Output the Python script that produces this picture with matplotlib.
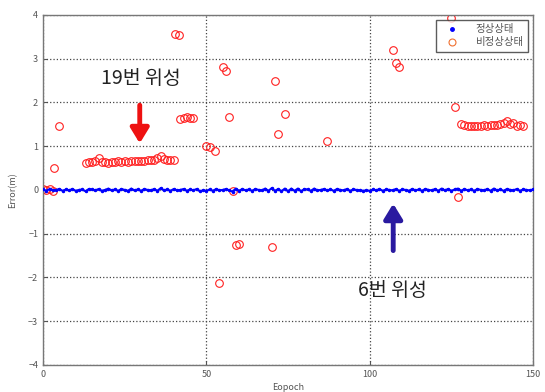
import matplotlib
matplotlib.use("Agg")
import matplotlib.pyplot as plt
from matplotlib.lines import Line2D

plt.rcParams["font.family"] = ["Noto Sans CJK KR", "DejaVu Sans"]

# normal state: epochs 0..150, error close to zero
normal_epoch = list(range(151))
normal_err = [
    0.01, -0.02, 0.02, -0.01, 0.00, 0.02, -0.02, 0.01, -0.01, 0.02,
    -0.02, 0.00, 0.01, -0.03, 0.02, 0.01, -0.01, 0.02, -0.02, 0.00,
    0.03, -0.01, 0.01, -0.02, 0.02, 0.00, -0.02, 0.03, -0.01, 0.01,
    -0.02, 0.02, 0.00, -0.01, 0.02, -0.02, 0.04, -0.01, 0.01, -0.02,
    0.02, -0.01, 0.00, 0.02, -0.02, 0.01, -0.01, 0.02, -0.03, -0.01,
    -0.02, 0.01, -0.02, 0.02, -0.01, 0.00, 0.02, -0.01, -0.04, 0.03,
    -0.02, 0.02, -0.01, 0.01, -0.02, 0.02, 0.00, -0.01, 0.03, -0.02,
    0.04, -0.02, 0.02, -0.03, 0.03, -0.03, 0.03, -0.02, 0.03, -0.03,
    0.02, 0.01, -0.02, 0.03, -0.01, 0.00, 0.02, -0.01, 0.01, -0.02,
    0.02, 0.00, -0.01, 0.02, -0.02, 0.01, 0.00, -0.01, -0.02, -0.01,
    -0.02, 0.01, -0.01, 0.02, -0.02, 0.01, 0.00, -0.01, 0.02, -0.02,
    0.01, 0.00, -0.02, 0.02, -0.01, 0.01, -0.02, 0.02, 0.00, -0.01,
    0.02, -0.02, 0.03, -0.01, 0.02, -0.02, 0.01, 0.03, -0.02, 0.02,
    -0.01, 0.01, -0.02, 0.02, 0.00, -0.01, 0.02, -0.02, 0.03, -0.01,
    0.01, -0.02, 0.02, 0.00, -0.01, 0.02, -0.02, 0.01, 0.00, -0.01,
    0.01,
]

# abnormal state points
abn_epoch = [
    0, 1, 2, 3, 3.5, 5,
    13, 14, 15, 16, 17, 18, 19, 20, 21, 22, 23, 24, 25, 26,
    27, 28, 29, 30, 31, 32, 33, 34, 35, 36, 37, 38, 39, 40,
    40.5, 41.5, 42, 43, 44, 45, 46,
    50, 51, 52.5, 54, 55, 56, 57, 58, 59, 60,
    70, 71, 72, 74, 87,
    107, 108, 109, 125, 126, 127,
    128, 129, 130, 131, 132, 133, 134, 135, 136, 137,
    138, 139, 140, 141, 142, 143, 144, 145, 146, 147,
]
abn_err = [
    0.02, 0.00, 0.01, -0.03, 0.49, 1.45,
    0.62, 0.63, 0.64, 0.66, 0.72, 0.64, 0.63, 0.62, 0.63, 0.64, 0.65, 0.64, 0.65, 0.64,
    0.65, 0.66, 0.65, 0.67, 0.66, 0.68, 0.69, 0.68, 0.72, 0.78, 0.70, 0.69, 0.68, 0.68,
    3.56, 3.54, 1.63, 1.65, 1.66, 1.64, 1.65,
    1.00, 0.99, 0.90, -2.12, 2.80, 2.72, 1.67, -0.02, -1.25, -1.24,
    -1.31, 2.48, 1.28, 1.74, 1.11,
    3.20, 2.90, 2.82, 3.92, 1.90, -0.17,
    1.50, 1.48, 1.46, 1.47, 1.46, 1.47, 1.46, 1.48, 1.47, 1.49,
    1.48, 1.49, 1.50, 1.52, 1.58, 1.50, 1.53, 1.47, 1.48, 1.46,
]

blue = "#0000ff"
red = "#ff2020"

fig = plt.figure(figsize=(5.45, 3.92), dpi=100)
ax = fig.add_axes([0.079, 0.069, 0.899, 0.893])

ax.plot(normal_epoch, normal_err, ".-", color=blue, lw=1.5, ms=3, zorder=3)
ax.plot(abn_epoch, abn_err, "o", mfc="none", mec=red, mew=0.8, ms=5.5, zorder=2)

ax.set_xlim(0, 150)
ax.set_ylim(-4, 4)
ax.set_xticks([0, 50, 100, 150])
ax.set_yticks(range(-4, 5))
ax.tick_params(labelsize=6.5, colors="#555555", length=3, direction="in")
ax.grid(True, linestyle=":", color="#444444", lw=0.9)
for s in ax.spines.values():
    s.set_color("#777777")
    s.set_linewidth(1.0)
ax.set_xlabel("Eopoch", fontsize=6.5, color="#555555", labelpad=3)
ax.set_ylabel("Error(m)", fontsize=6.5, color="#555555", labelpad=8)

handles = [
    Line2D([], [], ls="none", marker=".", color=blue, ms=5),
    Line2D([], [], ls="none", marker="o", mfc="none", mec="#f07030", mew=0.8, ms=5),
]
leg = ax.legend(handles, ["정상상태", "비정상상태"], loc="upper right", fontsize=7.5,
                frameon=True, fancybox=False, edgecolor="#333333", borderpad=0.4,
                handlelength=2.2, handletextpad=1.2, borderaxespad=0.5,
                labelspacing=0.3)
leg.get_frame().set_linewidth(1.0)
for t in leg.get_texts():
    t.set_color("#555555")

ax.text(30, 2.55, "19번 위성", fontsize=14, ha="center", va="center", color="#222222")
ax.annotate("", xy=(29.6, 1.0), xytext=(29.6, 2.0),
            arrowprops=dict(arrowstyle="-|>,head_width=0.55,head_length=0.9",
                            color="#ee1111", lw=3.5))
ax.text(107, -2.29, "6번 위성", fontsize=14, ha="center", va="center", color="#222222")
ax.annotate("", xy=(107.2, -0.25), xytext=(107.2, -1.45),
            arrowprops=dict(arrowstyle="-|>,head_width=0.55,head_length=0.9",
                            color="#2a1aa0", lw=3.5))

fig.savefig("out.png", dpi=100)
